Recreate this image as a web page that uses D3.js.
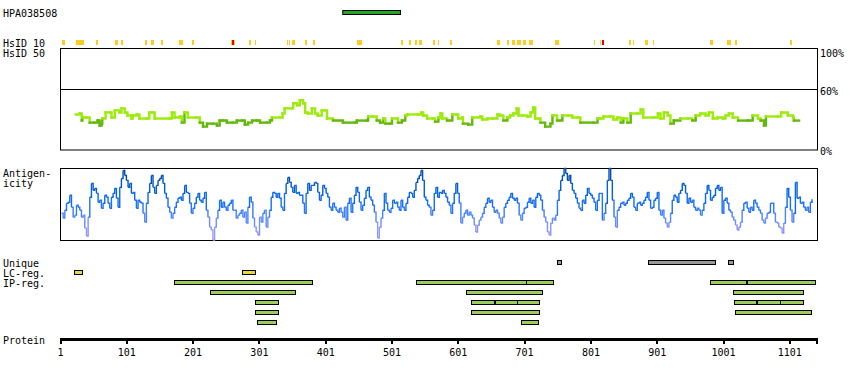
<!DOCTYPE html>
<html><head><meta charset="utf-8">
<script src="https://cdn.jsdelivr.net/npm/d3@7"></script>
<style>
body{margin:0;background:#fff}
text{font-family:"DejaVu Sans Mono",monospace;font-size:10px;fill:#000}
</style>
</head><body>
<svg id="c" width="850" height="380"></svg>
<script>
// ---------------- data ----------------
const proteinLength = 1142;
const axisTicks = [1, 101, 201, 301, 401, 501, 601, 701, 801, 901, 1001, 1101];
const percentTicks = [100, 60, 0];
const antibodyName = "HPA038508";
const antibodyRegion = [426, 513];

// HsID 10 marks (residue start, end)
const hsid10Orange = [[4,8],[25,37],[54,57],[83,87],[93,96],[128,131],[137,142],[152,155],[179,185],[200,203],
  [258,264],[285,288],[294,296],[342,344],[345,347],[350,354],[370,373],[382,385],[448,456],[515,518],[527,530],
  [535,538],[541,545],[563,566],[571,572],[589,592],[660,664],[675,678],[682,687],[689,692],[693,696],[698,702],
  [708,714],[747,753],[805,806],[814,815],[817,818],[859,862],[864,865],[882,886],[894,895],[980,985],[1006,1012],
  [1018,1021],[1101,1104]];
const hsid10Red = [[260,263],[818,821]];

// HsID 50 (% identity), step positions
const hsid50Pos = [24,30,33,34,40,45,52,57,60,63,64,69,75,78,83,90,93,98,102,108,110,116,120,131,135,140,143,166,169,
  173,181,184,188,193,206,211,216,222,231,237,241,246,252,261,267,275,279,284,290,297,302,312,317,320,332,336,339,
  350,352,358,362,367,370,374,380,385,389,395,400,403,412,427,445,448,463,465,472,478,483,488,491,498,501,509,510,
  516,521,524,540,545,548,554,563,566,571,574,577,584,592,599,601,607,608,616,622,634,637,645,652,660,664,669,675,
  679,684,689,692,698,705,710,714,717,722,725,732,740,743,750,758,767,773,781,785,805,811,815,820,830,835,841,846,
  850,856,861,871,876,880,895,902,906,911,917,921,926,936,947,954,959,966,974,979,985,992,1000,1004,1009,1015,1023,
  1038,1045,1053,1057,1062,1065,1083,1088,1098,1106,1107,1115];
const hsid50Val = [35,36,29,32,32,27,27,29,24,26,31,37,37,32,39,37,41,37,34,31,34,35,31,31,37,37,31,31,37,
  32,33,27,37,32,32,27,23,26,26,24,29,29,27,27,29,29,25,27,29,29,27,27,29,32,32,36,41,
  41,46,44,49,46,37,36,41,36,34,39,39,31,29,27,27,29,29,33,33,29,27,31,26,26,31,31,27,
  29,34,35,35,37,34,31,31,28,32,36,31,29,35,35,31,32,26,25,32,33,30,31,31,35,34,29,32,
  34,36,41,34,34,33,37,42,31,31,27,23,26,34,29,34,34,32,32,27,27,31,31,33,33,30,32,27,
  31,27,36,36,40,32,32,36,31,37,34,26,29,31,31,29,34,36,34,37,31,32,31,34,36,32,29,
  29,34,31,29,24,33,33,37,34,32,29,29];

// Antigenicity (relative score 0-72), sampled every antigenStep residues from antigenStart
const antigenStart = 2.5;
const antigenStep = 2.51;
const antigenicity = [
  27,22,30,37,38,45,33,23,25,35,33,30,23,25,12,4,23,43,57,50,52,47,38,40,32,37,45,43,37,32,43,47,52,42,33,53,62,70,65,60,
  53,57,47,48,40,32,40,38,37,27,18,37,48,57,65,53,47,55,60,62,65,57,47,42,33,28,22,27,33,38,42,43,40,47,55,48,47,37,27,32,
  37,43,47,40,38,42,48,30,23,13,10,0,13,22,30,40,33,38,33,30,35,37,40,30,30,22,25,27,30,23,28,17,33,43,38,22,13,8,5,23,
  18,27,30,13,23,30,43,48,47,43,47,42,33,30,47,57,63,58,53,48,55,47,48,45,
  45,37,27,47,57,50,55,55,58,57,48,40,45,55,52,47,43,33,30,37,33,30,28,32,28,23,33,20,37,42,28,37,45,53,48,38,30,35,42,50,
  53,43,40,35,28,18,2,13,22,30,47,37,30,28,32,40,37,38,33,30,40,33,30,37,43,48,47,43,50,58,62,65,70,60,43,40,35,33,25,30,
  47,53,43,48,47,50,47,43,38,35,27,37,47,57,47,37,17,23,27,30,25,28,25,22,15,8,15,20,23,27,33,37,42,38,40,33,28,30,27,22,
  17,23,33,37,40,43,47,42,40,42,37,25,20,27,32,33,38,42,37,40,33,43,47,45,40,30,23,18,8,5,17,22,20,25,40,50,60,65,72,67,
  60,65,57,50,47,42,37,32,30,40,37,45,52,47,45,42,38,30,40,
  47,47,20,27,37,60,72,60,40,23,13,30,33,37,38,35,37,40,42,47,43,33,30,37,38,35,37,40,43,48,40,32,33,40,42,48,30,25,30,22,
  17,13,18,27,40,45,43,38,47,50,57,55,47,37,42,38,40,33,30,32,30,25,30,37,47,55,50,40,43,45,52,55,50,53,27,40,42,37,30,28,
  23,20,15,10,13,18,30,37,38,32,28,33,30,40,37,33,30,27,20,17,22,27,28,37,37,27,18,17,13,12,7,17,33,52,43,30,18,27,58,42,
  43,37,38,33,30,33,28,38,41];

const uniqueRegions = [[750,756],[887,988],[1008,1016]];
const lcRegions = [[22,34],[275,294]];
const ipRows = [
  [[172,380],[537,703],[703,744],[981,1036],[1036,1138]],
  [[227,355],[612,726],[1016,1121]],
  [[295,329],[620,654],[656,690],[690,723],[1017,1050],[1052,1086],[1086,1121]],
  [[295,329],[620,723],[1019,1133]],
  [[298,327],[695,720]]
];

// ---------------- drawing ----------------
const svg = d3.select("#c");
const x = d3.scaleLinear().domain([1, proteinLength]).range([60.5, 817]);
const yId = d3.scaleLinear().domain([0, 100]).range([150, 48.5]);
const yAg = d3.scaleLinear().domain([0, 72]).range([240, 168.5]);
const agColor = d3.scaleLinear().domain([0, 12, 24, 34, 48, 62])
  .range(["#aaa2ff", "#8a92ff", "#4f86ff", "#1f72f6", "#0064e8", "#0050b0"]).clamp(true);
const idColor = v => v >= 30 ? "#9cec0a" : "#62b80c";

// labels
const labels = [
  [antibodyName, 3, 16.6], ["HsID 10", 3, 46.6], ["HsID 50", 3, 56.6],
  ["Antigen-", 3, 177], ["icity", 3, 187],
  ["Unique", 3, 267.3], ["LC-reg.", 3, 277.3], ["IP-reg.", 3, 287.3], ["Protein", 3, 344]
];
svg.selectAll("text.lab").data(labels).join("text").attr("class","lab")
  .attr("x", d => d[1]).attr("y", d => d[2]).text(d => d[0]);

// antibody bar
svg.append("rect").attr("x", x(antibodyRegion[0]) + 0.5).attr("y", 10.5)
  .attr("width", x(antibodyRegion[1]) - x(antibodyRegion[0])).attr("height", 4)
  .attr("fill", "#22a822").attr("stroke", "#000").attr("stroke-width", 1);

// HsID 10 marks
const drawMarks = (arr, col) => svg.append("g").selectAll("rect").data(arr).join("rect")
  .attr("x", d => Math.round(x(d[0]))).attr("y", 40)
  .attr("width", d => Math.max(1, Math.round(x(d[1]) - x(d[0])))).attr("height", 5)
  .attr("fill", col);
drawMarks(hsid10Orange, "#ffcc22");
drawMarks(hsid10Red, "#ee0000");

// HsID 50 frame
const f1 = svg.append("g");
f1.append("rect").attr("x", 60.5).attr("y", 48.5).attr("width", 757).attr("height", 101.5)
  .attr("fill", "none").attr("stroke", "#000");
f1.append("line").attr("x1", 60.5).attr("x2", 817.5).attr("y1", Math.round(yId(60)) + 0.5).attr("y2", Math.round(yId(60)) + 0.5)
  .attr("stroke", "#000");
const pctY = {100: 56.6, 60: 94.6, 0: 155};
svg.selectAll("text.pct").data(percentTicks).join("text").attr("class","pct")
  .attr("x", 820).attr("y", d => pctY[d]).text(d => d + "%");

// HsID 50 line (step)
const idSegs = d3.range(hsid50Pos.length - 1).map(i => ({
  x0: x(hsid50Pos[i]), x1: x(hsid50Pos[i+1]), v: hsid50Val[i], vn: hsid50Val[i+1]
}));
svg.append("g").selectAll("path").data(idSegs).join("path")
  .attr("d", d => `M${d.x0},${yId(d.v)}H${d.x1}V${yId(d.vn)}`)
  .attr("fill", "none").attr("stroke", d => idColor(d.v)).attr("stroke-width", 2.4)
  .attr("stroke-linecap", "square");

// Antigenicity frame
svg.append("rect").attr("x", 60.5).attr("y", 168.5).attr("width", 757).attr("height", 72)
  .attr("fill", "none").attr("stroke", "#000");

// antigenicity line
const agSegs = d3.range(antigenicity.length - 1).map(i => ({
  x0: x(antigenStart + i * antigenStep), x1: x(antigenStart + (i + 1) * antigenStep),
  v: antigenicity[i], vn: antigenicity[i+1]
}));
svg.append("g").selectAll("path").data(agSegs).join("path")
  .attr("d", d => `M${d.x0},${yAg(d.v)}H${d.x1}V${yAg(d.vn)}`)
  .attr("fill", "none").attr("stroke", d => agColor((d.v + d.vn) / 2)).attr("stroke-width", 1.4);

// region bars
const drawBars = (arr, y, fill) => svg.append("g").selectAll("rect").data(arr).join("rect")
  .attr("x", d => Math.round(x(d[0])) + 0.5).attr("y", y + 0.5)
  .attr("width", d => Math.round(x(d[1]) - x(d[0]))).attr("height", 4)
  .attr("fill", fill).attr("stroke", "#000").attr("stroke-width", 1);
drawBars(uniqueRegions, 260, "#999999");
drawBars(lcRegions, 270, "#e8d540");
ipRows.forEach((row, i) => drawBars(row, 280 + i * 10, "#9ccc5c"));

// protein axis
const ax = svg.append("g");
ax.append("line").attr("x1", 60).attr("x2", 818).attr("y1", 339.5).attr("y2", 339.5)
  .attr("stroke", "#000").attr("stroke-width", 3);
ax.selectAll("rect.tk").data(axisTicks.concat([proteinLength])).join("rect").attr("class","tk")
  .attr("x", d => Math.round(x(d)) - 1).attr("y", 339).attr("width", 2).attr("height", 5).attr("fill", "#000");
ax.selectAll("text").data(axisTicks).join("text")
  .attr("x", d => x(d)).attr("y", 355.6).attr("text-anchor", "middle").text(d => d);
</script>
</body></html>
